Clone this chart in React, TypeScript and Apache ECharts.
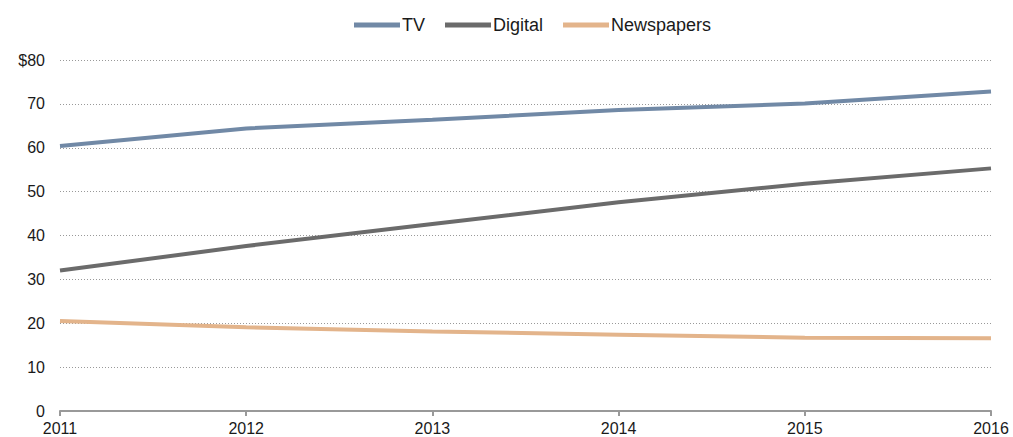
import React, { useEffect, useRef } from "react";
import * as echarts from "echarts";

const years = ["2011", "2012", "2013", "2014", "2015", "2016"];
const tv = [60.4, 64.4, 66.4, 68.6, 70.1, 72.8];
const digital = [32.0, 37.6, 42.6, 47.6, 51.8, 55.3];
const newspapers = [20.5, 19.1, 18.1, 17.4, 16.7, 16.6];

export default function App() {
  const ref = useRef<HTMLDivElement>(null);
  useEffect(() => {
    const chart = echarts.init(ref.current!, undefined, { renderer: "svg" });
    const font = "Liberation Sans, Arial, sans-serif";
    chart.setOption({
      animation: false,
      textStyle: { fontFamily: font },
      legend: {
        top: 11,
        left: 349,
        itemWidth: 46,
        itemHeight: 5,
        itemGap: 20,
        icon: "rect",
        textStyle: { fontSize: 18, color: "#1a1a1a", fontFamily: font, padding: [0, 0, 0, -3] },
        data: ["TV", "Digital", "Newspapers"],
      },
      grid: { left: 60, right: 22, top: 60, bottom: 26, containLabel: false, outerBoundsMode: "none" },
      xAxis: {
        type: "category",
        data: years,
        boundaryGap: false,
        axisLine: { lineStyle: { color: "#999999", width: 2 } },
        axisTick: { show: true, length: 5, lineStyle: { color: "#999999", width: 2 } },
        axisLabel: { fontSize: 16, lineHeight: 16, color: "#1a1a1a", margin: 9 },
        splitLine: { show: false },
      },
      yAxis: {
        type: "value",
        min: 0,
        max: 80,
        interval: 10,
        axisLine: { show: false },
        axisTick: { show: false },
        axisLabel: {
          fontSize: 16,
          color: "#1a1a1a",
          margin: 15,
          formatter: (v: number) => (v === 80 ? "$80" : String(v)),
        },
        splitLine: { lineStyle: { color: "#999999", type: [1, 2], width: 1 } },
      },
      series: [
        {
          name: "TV",
          type: "line",
          data: tv,
          symbol: "none",
          lineStyle: { color: "#7189a6", width: 4 },
          itemStyle: { color: "#7189a6" },
        },
        {
          name: "Digital",
          type: "line",
          data: digital,
          symbol: "none",
          lineStyle: { color: "#6b6b6b", width: 4 },
          itemStyle: { color: "#6b6b6b" },
        },
        {
          name: "Newspapers",
          type: "line",
          data: newspapers,
          symbol: "none",
          lineStyle: { color: "#e3b48b", width: 4 },
          itemStyle: { color: "#e3b48b" },
        },
      ],
    });
    return () => chart.dispose();
  }, []);
  return (
    <div
      ref={ref}
      style={{ position: "fixed", left: 0, top: 0, width: 1013, height: 437, background: "#fff" }}
    />
  );
}
